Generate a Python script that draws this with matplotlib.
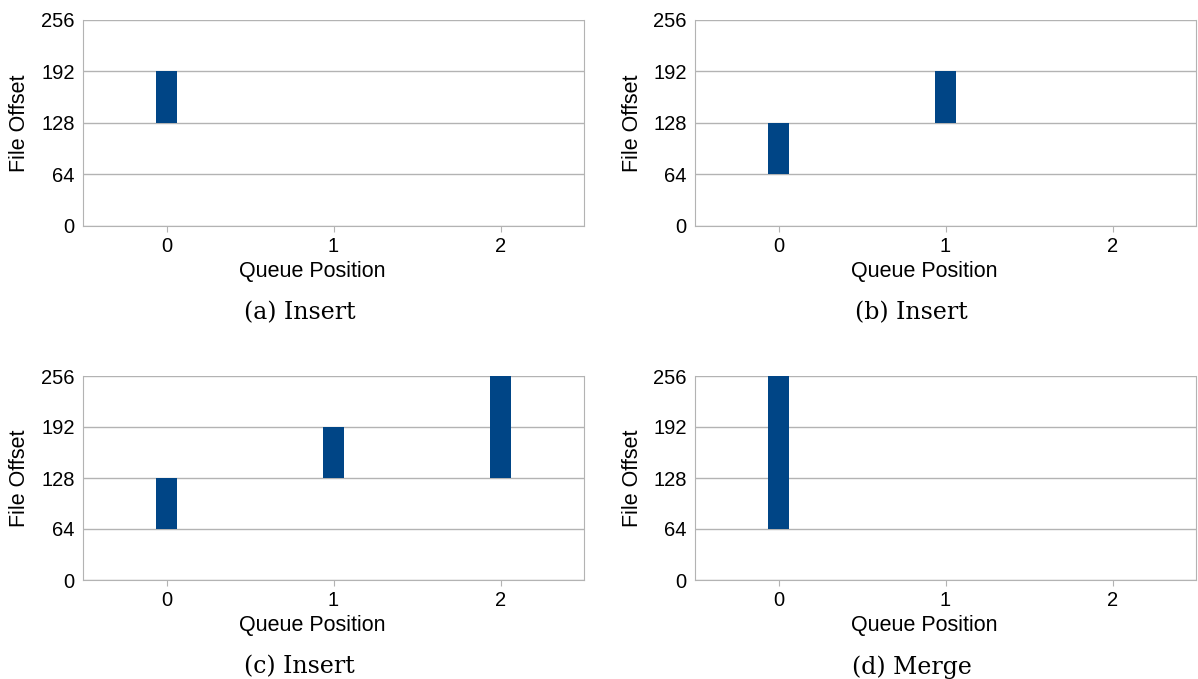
import numpy as np
import matplotlib
matplotlib.use('Agg')
import matplotlib.pyplot as plt

# data: one floating bar per queue entry, (position, start, end)
positions_a = [0]
starts_a = [128]
ends_a = [192]

positions_b = [0, 1]
starts_b = [64, 128]
ends_b = [128, 192]

positions_c = [0, 1, 2]
starts_c = [64, 128, 128]
ends_c = [128, 192, 256]

positions_d = [0]
starts_d = [64]
ends_d = [256]

captions = ['(a) Insert', '(b) Insert', '(c) Insert', '(d) Merge']
xticks = [0, 1, 2]
yticks = [0, 64, 128, 192, 256]

barColor = '#004586'
gridColor = '#b3b3b3'

W, H = 1198, 679
fig = plt.figure(figsize=(W / 100, H / 100), dpi=100)

# axes boxes in pixels: left, top, right, bottom
boxes = [(83, 20, 584, 226), (695, 20, 1196, 226),
         (83, 376, 584, 580), (695, 376, 1196, 580)]
panels = [(positions_a, starts_a, ends_a),
          (positions_b, starts_b, ends_b),
          (positions_c, starts_c, ends_c),
          (positions_d, starts_d, ends_d)]

for (l, t, r, b), (pos, st, en), cap in zip(boxes, panels, captions):
    ax = fig.add_axes([l / W, 1 - b / H, (r - l) / W, (b - t) / H])
    heights = np.array(en) - np.array(st)
    ax.bar(pos, heights, bottom=st, width=0.12, color=barColor, zorder=3)
    ax.set_xlim(-0.5, 2.5)
    ax.set_ylim(0, 256)
    ax.set_xticks(xticks)
    ax.set_yticks(yticks)
    ax.yaxis.grid(True, color=gridColor, linewidth=1)
    ax.set_axisbelow(True)
    for s in ax.spines.values():
        s.set_color(gridColor)
    ax.spines['top'].set_visible(False)
    ax.tick_params(axis='y', length=0, pad=6, labelsize=14.5,
                   labelfontfamily='Liberation Sans')
    ax.tick_params(axis='x', length=4, color=gridColor, pad=4, labelsize=14.5,
                   labelfontfamily='Liberation Sans')
    cx = (l + r) / 2
    fig.text((l - 63) / W, 1 - (t + b) / 2 / H, 'File Offset', rotation=90,
             ha='center', va='center', fontsize=15.5, family='Liberation Sans')
    fig.text((cx - 21) / W, 1 - (b + 46) / H, 'Queue Position',
             ha='center', va='center', fontsize=15.5, family='Liberation Sans')
    fig.text((cx - 34) / W, 1 - (b + 87) / H, cap,
             ha='center', va='center', fontsize=17, family='DejaVu Serif')

fig.savefig('out.png', dpi=100)
